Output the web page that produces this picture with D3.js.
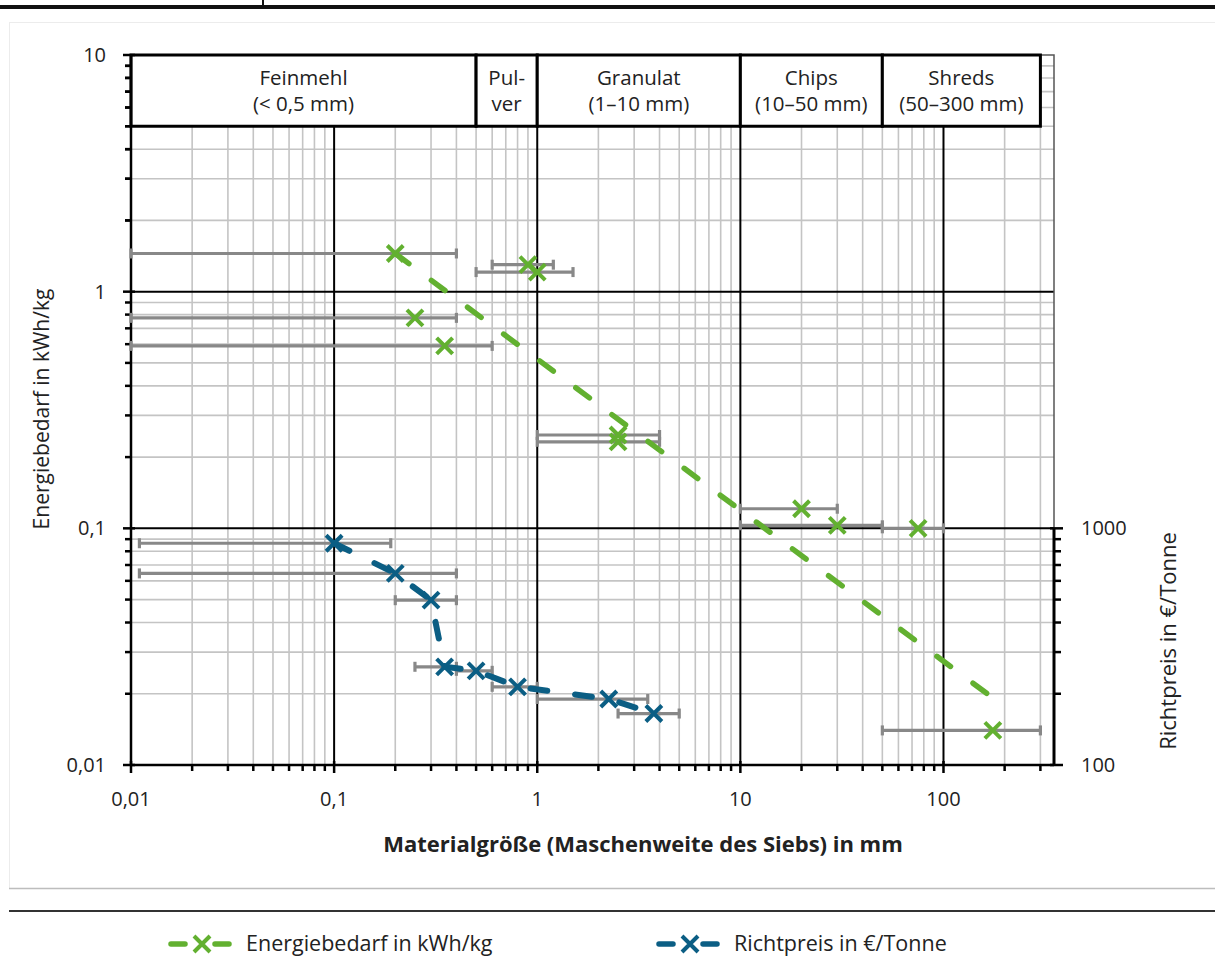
<!DOCTYPE html>
<html>
<head>
<meta charset="utf-8">
<script src="https://cdn.jsdelivr.net/npm/d3@7"></script>
<style>
  body { margin: 0; background: #fff; }
  svg text { font-family: "Open Sans", "DejaVu Sans", sans-serif; fill: #222; }
</style>
</head>
<body>
<svg id="chart" width="1215" height="974"></svg>
<script>
// size classes (mm range) shown in the boxes at the top
const catLabels = [['Feinmehl', '(< 0,5 mm)'], ['Pul-', 'ver'], ['Granulat', '(1–10 mm)'], ['Chips', '(10–50 mm)'], ['Shreds', '(50–300 mm)']];
const catFrom = [0.01, 0.5, 1, 10, 50];
const catTo   = [0.5, 1, 10, 50, 300];

// Energiebedarf in kWh/kg (left axis), with size range as error bar
const energyX  = [0.2, 0.9, 1.0, 0.25, 0.35, 2.5, 2.5, 20, 30, 75, 175];
const energyY  = [1.45, 1.30, 1.21, 0.775, 0.59, 0.248, 0.232, 0.121, 0.103, 0.1, 0.014];
const energyLo = [0.01, 0.6, 0.5, 0.01, 0.01, 1, 1, 10, 10, 50, 50];
const energyHi = [0.4, 1.2, 1.5, 0.4, 0.6, 4, 4, 30, 50, 100, 300];

// power trend line of the energy series, ends
const trendX = [0.2, 175];
const trendY = [1.45, 0.0192];

// Richtpreis in €/Tonne (right axis)
const priceX  = [0.1, 0.2, 0.3, 0.35, 0.5, 0.8, 2.25, 3.75];
const priceY  = [865, 645, 497, 260, 250, 214, 190, 165];
const priceLo = [0.011, 0.011, 0.2, 0.25, 0.4, 0.6, 1, 2.5];
const priceHi = [0.19, 0.4, 0.4, 0.4, 0.6, 1, 3.5, 5];

const xTicks = [0.01, 0.1, 1, 10, 100];
const xTickLabels = ['0,01', '0,1', '1', '10', '100'];
const yTicks = [0.01, 0.1, 1, 10];
const yTickLabels = ['0,01', '0,1', '1', '10'];
const y2Ticks = [100, 1000];
const y2TickLabels = ['100', '1000'];

const green = '#62b030';
const blue = '#0b5e84';
const barGray = '#888';

const svg = d3.select('#chart');

// page frame
svg.append('rect').attr('x', 0).attr('y', 5).attr('width', 1215).attr('height', 4).attr('fill', '#111');
svg.append('rect').attr('x', 262).attr('y', 0).attr('width', 2).attr('height', 5).attr('fill', '#111');
svg.append('rect').attr('x', 9.5).attr('y', 22.5).attr('width', 1220).attr('height', 866)
    .attr('fill', 'none').attr('stroke', '#ececec');
svg.append('line').attr('x1', 9).attr('x2', 1215).attr('y1', 888.5).attr('y2', 888.5).attr('stroke', '#bdbdbd').attr('stroke-width', 1.5);
svg.append('line').attr('x1', 9).attr('x2', 1215).attr('y1', 911).attr('y2', 911).attr('stroke', '#333').attr('stroke-width', 2);

const x = d3.scaleLog().domain([0.01, 350]).range([131, 1054]);
const y = d3.scaleLog().domain([0.01, 10]).range([765, 55]);
const y2 = d3.scaleLog().domain([100, 1000]).range([y(0.01), y(0.1)]);

// minor and major values per decade
const minorX = [], minorY = [];
[0.01, 0.1, 1, 10, 100].forEach(d => {
    for (let k = 2; k <= 9; k++) if (d * k < 350) minorX.push(d * k);
});
[0.01, 0.1, 1].forEach(d => {
    for (let k = 2; k <= 9; k++) minorY.push(d * k);
});

const grid = svg.append('g');
grid.selectAll('.gx').data(minorX).enter().append('line')
    .attr('x1', d => x(d)).attr('x2', d => x(d)).attr('y1', y(10)).attr('y2', y(0.01))
    .attr('stroke', '#c4c4c4').attr('stroke-width', 1.6);
grid.selectAll('.gy').data(minorY).enter().append('line')
    .attr('x1', x(0.01)).attr('x2', x(350)).attr('y1', d => y(d)).attr('y2', d => y(d))
    .attr('stroke', '#c4c4c4').attr('stroke-width', 1.6);
grid.selectAll('.mx').data([0.1, 1, 10, 100]).enter().append('line')
    .attr('x1', d => x(d)).attr('x2', d => x(d)).attr('y1', y(10)).attr('y2', y(0.01))
    .attr('stroke', '#000').attr('stroke-width', 2);
grid.selectAll('.my').data([0.1, 1]).enter().append('line')
    .attr('x1', x(0.01)).attr('x2', x(350)).attr('y1', d => y(d)).attr('y2', d => y(d))
    .attr('stroke', '#000').attr('stroke-width', 2);
// plot area border (top and upper right)
grid.append('path')
    .attr('d', `M${x(0.01)},${y(10)}H${x(350)}V${y(0.1)}`)
    .attr('fill', 'none').attr('stroke', '#555').attr('stroke-width', 1.5);

// size class boxes
const boxes = svg.append('g');
catLabels.forEach((lab, i) => {
    const x0 = x(catFrom[i]), x1 = x(catTo[i]);
    boxes.append('rect').attr('x', x0).attr('y', y(10)).attr('width', x1 - x0).attr('height', y(5) - y(10))
        .attr('fill', '#fff').attr('stroke', '#000').attr('stroke-width', 3);
    const t = boxes.append('text').attr('text-anchor', 'middle').attr('font-size', 20.5);
    t.append('tspan').attr('x', (x0 + x1) / 2).attr('y', 85).text(lab[0]);
    t.append('tspan').attr('x', (x0 + x1) / 2).attr('y', 111).text(lab[1]);
});

// axes
const axes = svg.append('g');
axes.append('line').attr('x1', x(0.01)).attr('x2', x(0.01)).attr('y1', y(10)).attr('y2', y(0.01))
    .attr('stroke', '#000').attr('stroke-width', 2.5);
axes.append('line').attr('x1', x(0.01)).attr('x2', x(350)).attr('y1', y(0.01)).attr('y2', y(0.01))
    .attr('stroke', '#000').attr('stroke-width', 2.5);
axes.append('line').attr('x1', x(350)).attr('x2', x(350)).attr('y1', y2(1000)).attr('y2', y2(100))
    .attr('stroke', '#000').attr('stroke-width', 3);

axes.selectAll('.ty').data(minorY.concat([2, 3, 4, 5, 6, 7, 8, 9])).enter().append('line')
    .attr('x1', x(0.01) - 6).attr('x2', x(0.01)).attr('y1', d => y(d)).attr('y2', d => y(d))
    .attr('stroke', '#000').attr('stroke-width', 2.5);
axes.selectAll('.tY').data(yTicks).enter().append('line')
    .attr('x1', x(0.01) - 8).attr('x2', x(0.01) + 4).attr('y1', d => y(d)).attr('y2', d => y(d))
    .attr('stroke', '#000').attr('stroke-width', 2.5);
axes.selectAll('.tx').data(minorX).enter().append('line')
    .attr('x1', d => x(d)).attr('x2', d => x(d)).attr('y1', y(0.01)).attr('y2', y(0.01) + 6)
    .attr('stroke', '#000').attr('stroke-width', 2.5);
axes.selectAll('.tX').data(xTicks).enter().append('line')
    .attr('x1', d => x(d)).attr('x2', d => x(d)).attr('y1', y(0.01) - 4).attr('y2', y(0.01) + 8)
    .attr('stroke', '#000').attr('stroke-width', 2.5);
axes.selectAll('.t2').data(d3.range(2, 10).map(k => k * 100)).enter().append('line')
    .attr('x1', x(350)).attr('x2', x(350) + 7).attr('y1', d => y2(d)).attr('y2', d => y2(d))
    .attr('stroke', '#000').attr('stroke-width', 2.5);
axes.selectAll('.T2').data(y2Ticks).enter().append('line')
    .attr('x1', x(350) - 4).attr('x2', x(350) + 9).attr('y1', d => y2(d)).attr('y2', d => y2(d))
    .attr('stroke', '#000').attr('stroke-width', 2.5);

axes.selectAll('.lx').data(xTicks).enter().append('text')
    .attr('x', d => x(d)).attr('y', 806).attr('text-anchor', 'middle').attr('font-size', 20)
    .text((d, i) => xTickLabels[i]);
axes.selectAll('.ly').data(yTicks).enter().append('text')
    .attr('x', 106).attr('y', d => y(d) + 7).attr('text-anchor', 'end').attr('font-size', 20)
    .text((d, i) => yTickLabels[i]);
axes.selectAll('.l2').data(y2Ticks).enter().append('text')
    .attr('x', 1081).attr('y', d => y2(d) + 7).attr('font-size', 20)
    .text((d, i) => y2TickLabels[i]);

svg.append('text').attr('x', 643).attr('y', 852).attr('text-anchor', 'middle')
    .attr('font-size', 22).attr('font-weight', 'bold').text('Materialgröße (Maschenweite des Siebs) in mm');
svg.append('text').attr('transform', 'translate(49,409) rotate(-90)').attr('text-anchor', 'middle')
    .attr('font-size', 21).text('Energiebedarf in kWh/kg');
svg.append('text').attr('transform', 'translate(1176,641) rotate(-90)').attr('text-anchor', 'middle')
    .attr('font-size', 22).text('Richtpreis in €/Tonne');

// error bars
function errorBars(g, xs, lo, hi, ys, yScale) {
    xs.forEach((d, i) => {
        const yy = yScale(ys[i]);
        g.append('line').attr('x1', x(lo[i])).attr('x2', x(hi[i])).attr('y1', yy).attr('y2', yy)
            .attr('stroke', barGray).attr('stroke-width', 3.2);
        [lo[i], hi[i]].forEach(v => {
            g.append('line').attr('x1', x(v)).attr('x2', x(v)).attr('y1', yy - 5).attr('y2', yy + 5)
                .attr('stroke', barGray).attr('stroke-width', 3.2);
        });
    });
}
const bars = svg.append('g');
errorBars(bars, energyX, energyLo, energyHi, energyY, y);
errorBars(bars, priceX, priceLo, priceHi, priceY, y2);

// trend line and price line
svg.append('path').datum(trendX.map((d, i) => [d, trendY[i]]))
    .attr('d', d3.line().x(d => x(d[0])).y(d => y(d[1])))
    .attr('fill', 'none').attr('stroke', green).attr('stroke-width', 5.5)
    .attr('stroke-linecap', 'round').attr('stroke-dasharray', '17,28');
svg.append('path').datum(priceX.map((d, i) => [d, priceY[i]]))
    .attr('d', d3.line().x(d => x(d[0])).y(d => y2(d[1])))
    .attr('fill', 'none').attr('stroke', blue).attr('stroke-width', 6)
    .attr('stroke-linecap', 'round').attr('stroke-dasharray', '17,28');

// x markers
const cross = 'M-8,-8L8,8M-8,8L8,-8';
function markers(xs, ys, yScale, color) {
    svg.append('g').selectAll('path').data(xs).enter().append('path')
        .attr('transform', (d, i) => `translate(${x(d)},${yScale(ys[i])})`)
        .attr('d', cross).attr('stroke', color).attr('stroke-width', 4).attr('fill', 'none');
}
markers(energyX, energyY, y, green);
markers(priceX, priceY, y2, blue);

// legend
const legend = [
    { label: 'Energiebedarf in kWh/kg', color: green, x0: 169 },
    { label: 'Richtpreis in €/Tonne', color: blue, x0: 657 }
];
legend.forEach(l => {
    const g = svg.append('g').attr('transform', `translate(${l.x0},944)`);
    g.append('line').attr('x1', 2).attr('x2', 60).attr('y1', 0).attr('y2', 0)
        .attr('stroke', l.color).attr('stroke-width', 5.5).attr('stroke-linecap', 'round')
        .attr('stroke-dasharray', '14,30');
    g.append('path').attr('d', cross).attr('transform', 'translate(33,0)')
        .attr('stroke', l.color).attr('stroke-width', 4).attr('fill', 'none');
    g.append('text').attr('x', 77).attr('y', 7).attr('font-size', 21.5).text(l.label);
});
</script>
</body>
</html>
